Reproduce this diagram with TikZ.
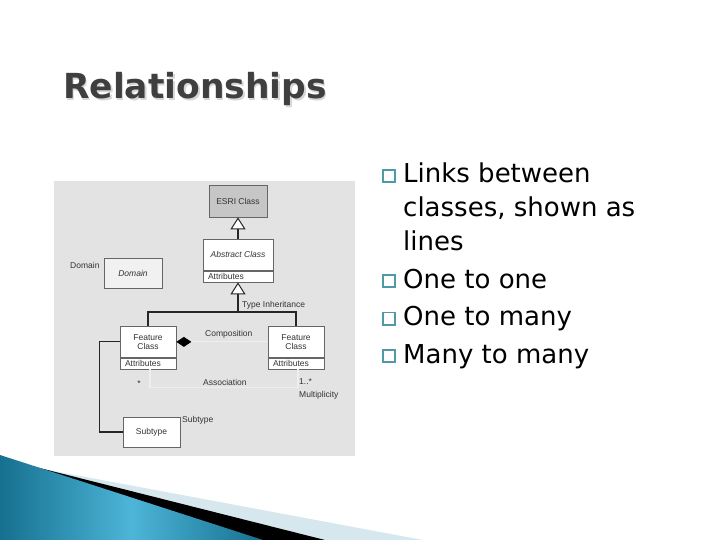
\documentclass[tikz,border=0pt]{standalone}
\usepackage{fontspec}
\setmainfont{DejaVu Sans}
\newfontfamily\umlfont{Liberation Sans}
\usetikzlibrary{arrows.meta,positioning}

\definecolor{titlegray}{HTML}{3F3F3F}
\definecolor{shadowgray}{HTML}{D6D6D6}
\definecolor{bullteal}{HTML}{4F9AA6}
\definecolor{panelgray}{HTML}{E3E3E3}
\definecolor{esrigray}{HTML}{C6C6C6}
\definecolor{domaingray}{HTML}{F1F1F1}
\definecolor{faintline}{HTML}{EEEEEE}
\definecolor{swooshlight}{HTML}{D6E7EE}
\definecolor{swooshdark}{HTML}{16708F}
\definecolor{swooshmid}{HTML}{4DB5D8}

\tikzset{
  umltext/.style={font=\umlfont\fontsize{8.5}{9}\selectfont, text=black!80},
  umlbox/.style={umltext, draw=black!60, fill=white, line width=0.7pt, inner sep=0pt, align=center},
  attrbox/.style={umlbox, minimum height=11pt, inner xsep=5pt, align=left},
  umllabel/.style={umltext, inner sep=0pt, anchor=west},
  link/.style={draw=black!85, line width=1.2pt},
  faint/.style={draw=faintline, line width=1.2pt},
  inherit/.style={link, -{Triangle[width=15pt,length=12pt,fill=white,line width=1pt]}},
  bulletsq/.style={draw=bullteal, line width=1.7pt, minimum size=12.3pt, inner sep=0pt},
  bullettext/.style={font=\fontsize{26}{33.5}\selectfont, anchor=base west, inner sep=0pt, align=left},
}

\begin{document}
\begin{tikzpicture}[x=1pt,y=-1pt]
\useasboundingbox (0,0) rectangle (720,540);

% title
\node[font=\bfseries\fontsize{34.5}{40}\selectfont, text=shadowgray, anchor=base west, inner sep=0pt] (titleshadow) at (64.5,100.5) {Relationships};
\node[font=\bfseries\fontsize{34.5}{40}\selectfont, text=titlegray, anchor=base west, inner sep=0pt] (title) at (63,99) {Relationships};

% bullets (multi-line text sits on its last baseline)
\node[bulletsq] (sq1) at (389,176) {};
\node[bullettext] (b1) at (403,250) {Links between\\classes, shown as\\lines};
\node[bulletsq] (sq2) at (389,281) {};
\node[bullettext] (b2) at (403,288) {One to one};
\node[bulletsq] (sq3) at (389,318.5) {};
\node[bullettext] (b3) at (403,325.5) {One to many};
\node[bulletsq] (sq4) at (389,356) {};
\node[bullettext] (b4) at (403,363) {Many to many};

% diagram panel
\fill[panelgray] (54,181) rectangle (355,456);

\node[umlbox, fill=esrigray, minimum width=58pt, minimum height=32pt] (esri) at (238,201) {ESRI Class};
\node[umlbox, minimum width=70pt, minimum height=31pt, anchor=north, font=\umlfont\itshape\fontsize{8.5}{9}\selectfont] (abs) at (238,239) {Abstract Class};
\node[attrbox, text width=60pt, below=0pt of abs] (absattr) {Attributes};

\node[umlbox, fill=domaingray, minimum width=58pt, minimum height=30pt, font=\umlfont\itshape\fontsize{8.5}{9}\selectfont] (dom) at (133,273) {Domain};
\node[umllabel] (domlabel) at (70,265) {Domain};

\node[umlbox, minimum width=56pt, minimum height=31pt, anchor=north] (fcL) at (148,326) {Feature\\Class};
\node[attrbox, text width=46pt, below=0pt of fcL] (fcLattr) {Attributes};
\node[umlbox, minimum width=56pt, minimum height=31pt, anchor=north] (fcR) at (296,326) {Feature\\Class};
\node[attrbox, text width=46pt, below=0pt of fcR] (fcRattr) {Attributes};

\node[umlbox, minimum width=57pt, minimum height=30pt] (sub) at (151.5,432) {Subtype};

\coordinate (tj) at (238,312);

% connectors
\draw[inherit] (abs.north) -- (esri.south);
\draw[inherit] (tj) -- (absattr.south);
\draw[link] (fcL.north) |- (tj) -| (fcR.north);
\draw[faint, {Diamond[length=15pt,width=10pt,color=black]}-] (fcL.east) -- (fcR.west);
\draw[faint] ([xshift=2pt]fcLattr.south) -- ++(0,18) -| ([xshift=2pt]fcRattr.south);
\draw[link] (fcL.west) -- ++(-20,0) |- (sub.west);

% labels
\node[umllabel] (typelabel) at (242,305) {Type Inheritance};
\node[umllabel] (complabel) at (205,334) {Composition};
\node[umllabel] (assoclabel) at (203,382) {Association};
\node[umltext, inner sep=0pt] (manylabel) at (139,384) {*};
\node[umllabel] (multlabel) at (299,382) {1..*};
\node[umllabel] (multtext) at (299,395) {Multiplicity};
\node[umllabel] (sublabel) at (182,420) {Subtype};

% swoosh
\fill[swooshlight] (0,461) -- (423,540) -- (0,540) -- cycle;
\fill[black] (0,458) -- (325,540) -- (0,540) -- cycle;
\shade[left color=swooshdark, right color=swooshdark, middle color=swooshmid] (0,455) -- (263,540) -- (0,540) -- cycle;
\end{tikzpicture}
\end{document}
